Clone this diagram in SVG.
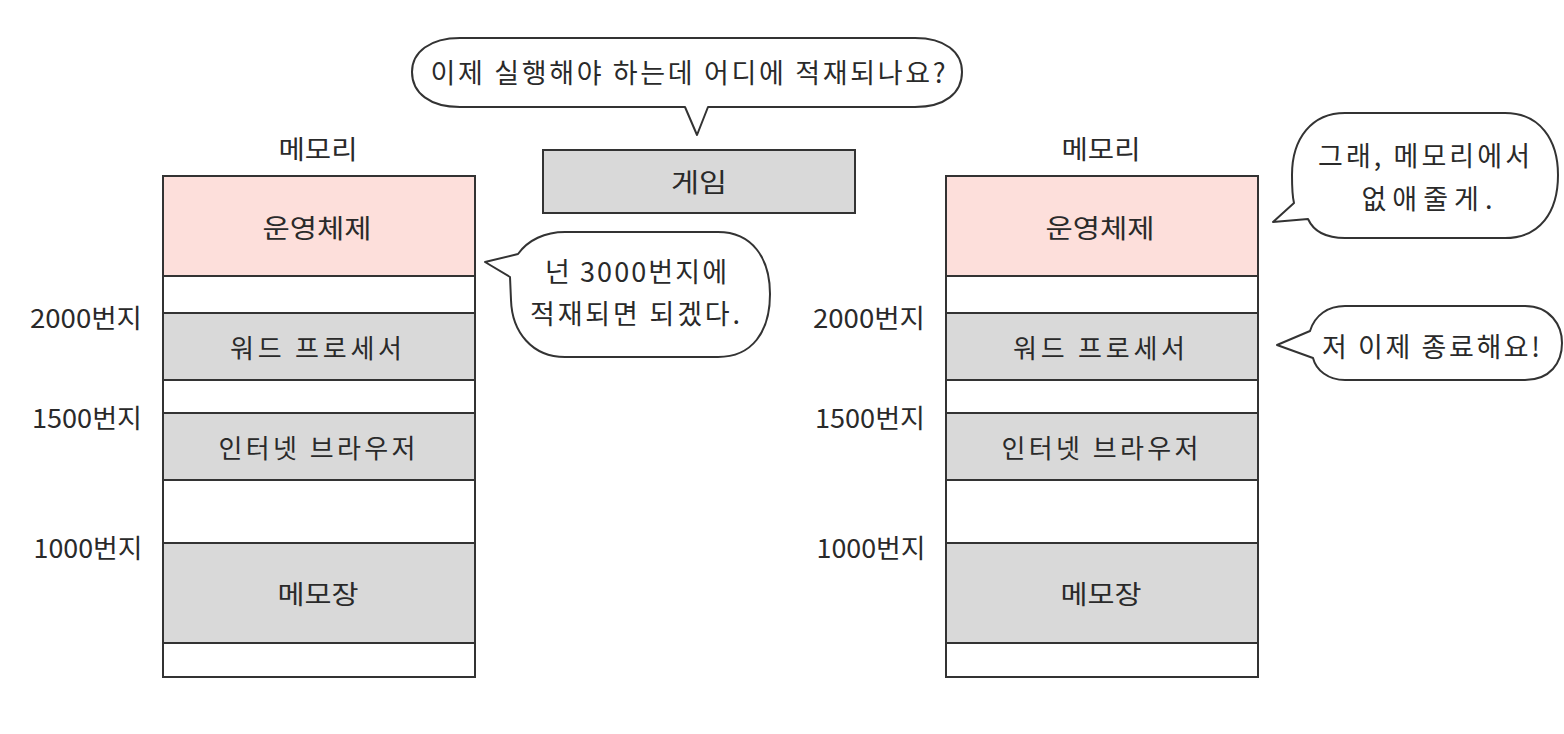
<svg xmlns="http://www.w3.org/2000/svg" width="1564" height="734" viewBox="0 0 1564 734">
<style>
text{font-family:"Noto Sans CJK KR","Noto Sans",sans-serif;font-size:26px;fill:#2a2a2a;text-anchor:middle;dominant-baseline:central}
.bt{font-size:27px}
.os{fill:#fddfdb}
.used{fill:#d9d9d9}
.free{fill:#ffffff}
.frame{fill:none;stroke:#333;stroke-width:2}
.line{stroke:#333;stroke-width:2}
.bubble{fill:#fff;stroke:#333;stroke-width:2;stroke-linejoin:round}
</style>
<rect width="1564" height="734" fill="#fff"/>

<g id="memory-left">
  <text x="318" y="147" textLength="79" lengthAdjust="spacingAndGlyphs">메모리</text>
  <rect class="free" x="163" y="176" width="312" height="501"/>
  <rect class="os" x="163" y="176" width="312" height="100"/>
  <rect class="used" x="163" y="313" width="312" height="67"/>
  <rect class="used" x="163" y="413" width="312" height="67"/>
  <rect class="used" x="163" y="543" width="312" height="100"/>
  <line class="line" x1="163" y1="276" x2="476" y2="276"/>
  <line class="line" x1="163" y1="313" x2="476" y2="313"/>
  <line class="line" x1="163" y1="380" x2="476" y2="380"/>
  <line class="line" x1="163" y1="413" x2="476" y2="413"/>
  <line class="line" x1="163" y1="480" x2="476" y2="480"/>
  <line class="line" x1="163" y1="543" x2="476" y2="543"/>
  <line class="line" x1="163" y1="643" x2="476" y2="643"/>
  <rect class="frame" x="163" y="176" width="312" height="501"/>
  <text x="317" y="226" textLength="109" lengthAdjust="spacingAndGlyphs">운영체제</text>
  <text x="316" y="346" textLength="172" lengthAdjust="spacing">워드 프로세서</text>
  <text x="317" y="446" textLength="197" lengthAdjust="spacing">인터넷 브라우저</text>
  <text x="318" y="592" textLength="81" lengthAdjust="spacingAndGlyphs">메모장</text>
  <text x="86" y="316" textLength="112" lengthAdjust="spacingAndGlyphs">2000번지</text>
  <text x="87" y="416" textLength="110" lengthAdjust="spacingAndGlyphs">1500번지</text>
  <text x="88" y="546" textLength="109" lengthAdjust="spacingAndGlyphs">1000번지</text>
</g>

<g id="memory-right">
  <text x="1101" y="147" textLength="79" lengthAdjust="spacingAndGlyphs">메모리</text>
  <rect class="free" x="946" y="176" width="312" height="501"/>
  <rect class="os" x="946" y="176" width="312" height="100"/>
  <rect class="used" x="946" y="313" width="312" height="67"/>
  <rect class="used" x="946" y="413" width="312" height="67"/>
  <rect class="used" x="946" y="543" width="312" height="100"/>
  <line class="line" x1="946" y1="276" x2="1259" y2="276"/>
  <line class="line" x1="946" y1="313" x2="1259" y2="313"/>
  <line class="line" x1="946" y1="380" x2="1259" y2="380"/>
  <line class="line" x1="946" y1="413" x2="1259" y2="413"/>
  <line class="line" x1="946" y1="480" x2="1259" y2="480"/>
  <line class="line" x1="946" y1="543" x2="1259" y2="543"/>
  <line class="line" x1="946" y1="643" x2="1259" y2="643"/>
  <rect class="frame" x="946" y="176" width="312" height="501"/>
  <text x="1100" y="226" textLength="109" lengthAdjust="spacingAndGlyphs">운영체제</text>
  <text x="1099" y="346" textLength="172" lengthAdjust="spacing">워드 프로세서</text>
  <text x="1100" y="446" textLength="197" lengthAdjust="spacing">인터넷 브라우저</text>
  <text x="1101" y="592" textLength="81" lengthAdjust="spacingAndGlyphs">메모장</text>
  <text x="869" y="316" textLength="112" lengthAdjust="spacingAndGlyphs">2000번지</text>
  <text x="870" y="416" textLength="110" lengthAdjust="spacingAndGlyphs">1500번지</text>
  <text x="871" y="546" textLength="109" lengthAdjust="spacingAndGlyphs">1000번지</text>
</g>

<g id="game">
  <rect class="used" x="543" y="150" width="312" height="63" stroke="#333" stroke-width="2"/>
  <text x="699" y="180" textLength="56" lengthAdjust="spacingAndGlyphs">게임</text>
</g>

<g id="bubble-question">
  <path class="bubble" d="M 460,38 H 915 C 945,38 962,52 962,72 C 962,93 945,107 915,107 H 708 L 697,135 L 685,107 H 460 C 430,107 412,93 412,72 C 412,52 430,38 460,38 Z"/>
  <text class="bt" x="688" y="71" textLength="515" lengthAdjust="spacing">이제 실행해야 하는데 어디에 적재되나요?</text>
</g>

<g id="bubble-answer">
  <path class="bubble" d="M 565,232 H 718 C 752,232 770,258 770,294 C 770,332 752,357 718,357 H 565 C 532,357 512,332 511,300 L 510,277 L 485,262 L 518,254 C 528,240 545,232 565,232 Z"/>
  <text class="bt" x="636" y="270" textLength="182" lengthAdjust="spacing">넌 3000번지에</text>
  <text class="bt" x="635" y="312" textLength="210" lengthAdjust="spacing">적재되면 되겠다.</text>
</g>

<g id="bubble-remove">
  <path class="bubble" d="M 1345,113 H 1505 C 1540,113 1558,140 1558,175 C 1558,212 1540,238 1505,238 H 1345 C 1325,238 1313,230 1308,219 L 1273,222 L 1294,203 C 1292,195 1292,185 1292,175 C 1292,138 1312,113 1345,113 Z"/>
  <text class="bt" x="1424" y="154" textLength="212" lengthAdjust="spacing">그래, 메모리에서</text>
  <text class="bt" x="1427" y="197" textLength="131" lengthAdjust="spacing">없애줄게.</text>
</g>

<g id="bubble-exit">
  <path class="bubble" d="M 1345,306 H 1525 C 1550,306 1562,325 1562,343 C 1562,363 1550,380 1525,380 H 1345 C 1328,380 1316,370 1313,358 L 1277,345 L 1310,331 C 1315,315 1328,306 1345,306 Z"/>
  <text class="bt" x="1431" y="345" textLength="218" lengthAdjust="spacing">저 이제 종료해요!</text>
</g>

<g id="connectors"/>
</svg>
